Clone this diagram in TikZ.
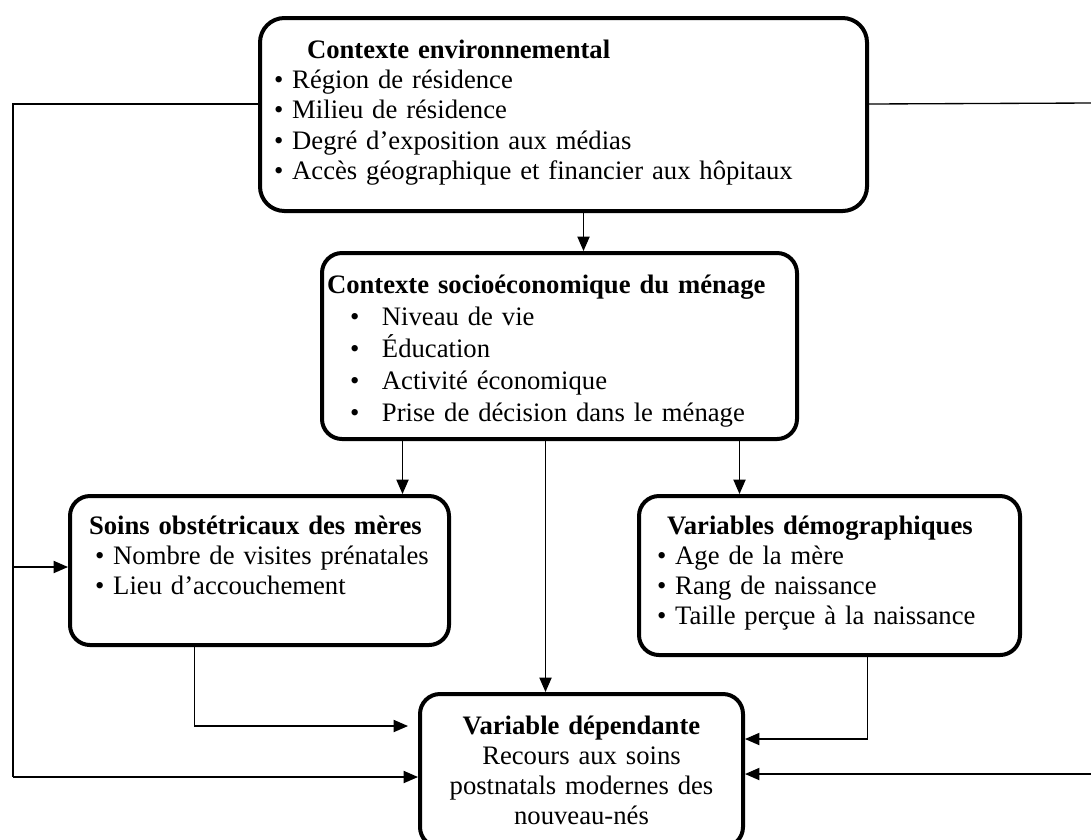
\documentclass[tikz,border=0pt]{standalone}
\usepackage{fontspec}
\setmainfont{Liberation Serif}
\usetikzlibrary{arrows.meta}
\newlength{\px}
\setlength{\px}{0.45pt}
\newcommand{\puce}[1]{\mbox{\textbullet\ #1}}
\newcommand{\pucetab}[1]{\mbox{\hspace*{23\px}\makebox[32\px][l]{\textbullet}#1}}

\begin{document}
\begin{tikzpicture}[x=0.45pt,y=-0.45pt,
  boite/.style={draw, line width=1.8pt, rounded corners=9pt, anchor=north west,
    inner ysep=0pt, align=left, font=\fontsize{12pt}{13.5pt}\selectfont},
  fleche/.style={-{Triangle[length=6.5pt,width=5.5pt]}, line width=0.6pt},
  trait/.style={line width=0.6pt},
  epais/.style={line width=1.2pt}]
  \useasboundingbox (0,0) rectangle (1091,839);
  \node[boite, rounded corners=11pt, inner xsep=14\px, text width=579\px,
    text height=40\px, text depth=153\px, font=\fontsize{12pt}{13.7pt}\selectfont] (env) at (258,16)
    {\hspace*{33\px}\textbf{Contexte environnemental}\\
     \puce{Région de résidence}\\
     \puce{Milieu de résidence}\\
     \puce{Degré d’exposition aux médias}\\
     \puce{Accès géographique et financier aux hôpitaux}};
  \node[boite, inner xsep=5\px, text width=465\px,
    text height=40\px, text depth=146\px, font=\fontsize{12pt}{14.4pt}\selectfont] (socio) at (320,251)
    {\textbf{Contexte socioéconomique du ménage}\\
     \pucetab{Niveau de vie}\\
     \pucetab{Éducation}\\
     \pucetab{Activité économique}\\
     \pucetab{Prise de décision dans le ménage}};
  \node[boite, inner xsep=17\px, text width=345\px,
    text height=38\px, text depth=111\px] (soins) at (68,494)
    {\hspace*{2\px}\textbf{Soins obstétricaux des mères}\\
     \hspace*{8\px}\puce{Nombre de visites prénatales}\\
     \hspace*{8\px}\puce{Lieu d’accouchement}};
  \node[boite, inner xsep=18\px, text width=345\px,
    text height=38\px, text depth=121\px] (demo) at (637,494)
    {\hspace*{10\px}\textbf{Variables démographiques}\\
     \puce{Age de la mère}\\
     \puce{Rang de naissance}\\
     \puce{Taille perçue à la naissance}};
  \node[boite, align=center, inner xsep=10\px, text width=303\px,
    text height=40\px, text depth=113\px] (dep) at (418,692)
    {\textbf{Variable dépendante}\\
     Recours aux soins\\
     postnatals modernes des\\
     nouveau-nés};
  \coordinate (coinbas) at (13,777);
  \coordinate (branche) at (13,567);
  \coordinate (droitehaut) at (1091,103);
  \coordinate (droitebas) at (1091,774);
  \draw[fleche] ([xshift=20\px]env.south) -- ([xshift=20\px]env.south |- socio.north);
  \draw[fleche] ([xshift=-157\px]socio.south) -- ([xshift=-157\px]socio.south |- soins.north);
  \draw[fleche] ([xshift=-14\px]socio.south) -- ([xshift=-14\px]socio.south |- dep.north);
  \draw[fleche] ([xshift=180\px]socio.south) -- ([xshift=180\px]socio.south |- demo.north);
  \draw[fleche] ([xshift=-65\px]soins.south) |- ([xshift=-10\px,yshift=-34\px]dep.north west);
  \draw[fleche] ([xshift=38\px]demo.south) |- ([yshift=-47\px]dep.north east);
  \draw[epais] ([yshift=-88\px]env.north west) -| (coinbas);
  \draw[fleche] (coinbas) -- ([yshift=-85\px]dep.north west);
  \draw[fleche] (branche) -- (branche -| soins.west);
  \draw[trait] ([yshift=-88\px]env.north east) -- (droitehaut);
  \draw[fleche] (droitebas) -- ([yshift=-82\px]dep.north east);
\end{tikzpicture}
\end{document}
